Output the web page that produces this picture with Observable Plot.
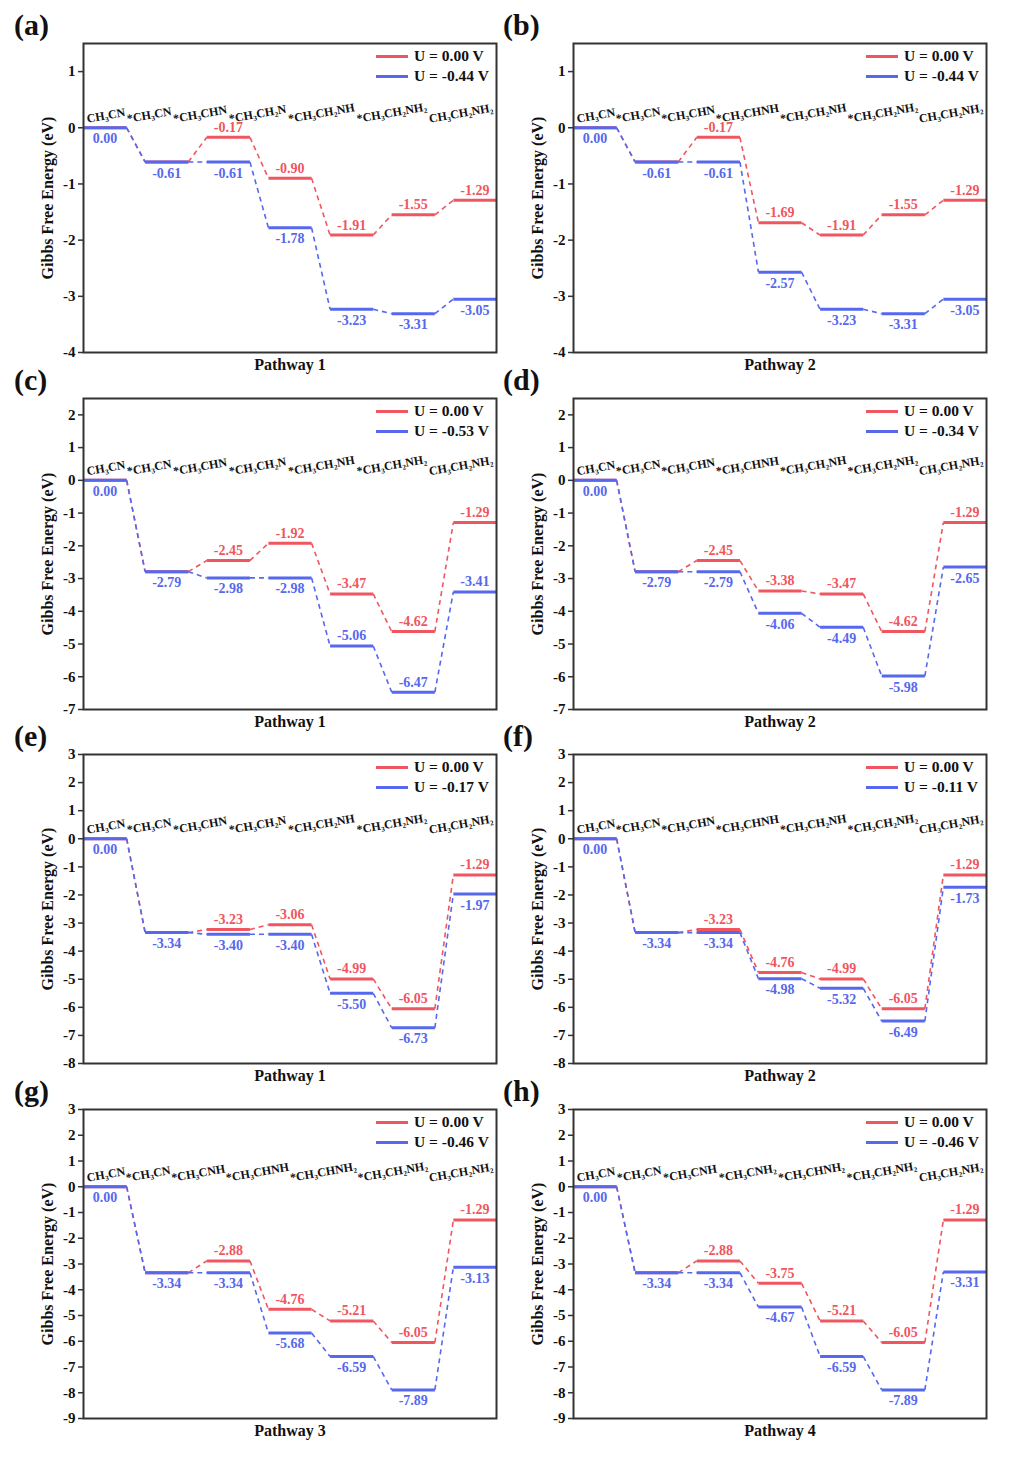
<!DOCTYPE html>
<html><head><meta charset="utf-8">
<script src="https://cdn.jsdelivr.net/npm/d3@7"></script>
<script src="https://cdn.jsdelivr.net/npm/@observablehq/plot@0.6"></script>
<style>
body{margin:0;background:#fff;}
#fig{position:relative;width:1013px;height:1463px;background:#fff;font-family:"Liberation Serif","Times New Roman",serif;color:#111;}
.panel{position:absolute;}
.letter{position:absolute;font-weight:bold;font-size:30px;line-height:30px;}
.legend{position:absolute;font-weight:bold;font-size:15.5px;line-height:20px;white-space:nowrap;}
.legend .sw{display:inline-block;width:32px;height:3px;vertical-align:middle;margin-right:6px;position:relative;top:-1px;}
</style></head><body><div id="fig"></div>
<script>
// ---------- data ----------
const panelLetters = ["(a)", "(b)", "(c)", "(d)", "(e)", "(f)", "(g)", "(h)"];
const pathwayNames = ["Pathway 1", "Pathway 2", "Pathway 1", "Pathway 2", "Pathway 1", "Pathway 2", "Pathway 3", "Pathway 4"];
const potentials = ["-0.44", "-0.44", "-0.53", "-0.34", "-0.17", "-0.11", "-0.46", "-0.46"];

const speciesP1 = ["CH₃CN", "*CH₃CN", "*CH₃CHN", "*CH₃CH₂N", "*CH₃CH₂NH", "*CH₃CH₂NH₂", "CH₃CH₂NH₂"];
const speciesP2 = ["CH₃CN", "*CH₃CN", "*CH₃CHN", "*CH₃CHNH", "*CH₃CH₂NH", "*CH₃CH₂NH₂", "CH₃CH₂NH₂"];
const speciesP3 = ["CH₃CN", "*CH₃CN", "*CH₃CNH", "*CH₃CHNH", "*CH₃CHNH₂", "*CH₃CH₂NH₂", "CH₃CH₂NH₂"];
const speciesP4 = ["CH₃CN", "*CH₃CN", "*CH₃CNH", "*CH₃CNH₂", "*CH₃CHNH₂", "*CH₃CH₂NH₂", "CH₃CH₂NH₂"];

const redA  = [0, -0.61, -0.17, -0.90, -1.91, -1.55, -1.29];
const blueA = [0, -0.61, -0.61, -1.78, -3.23, -3.31, -3.05];
const redB  = [0, -0.61, -0.17, -1.69, -1.91, -1.55, -1.29];
const blueB = [0, -0.61, -0.61, -2.57, -3.23, -3.31, -3.05];
const redC  = [0, -2.79, -2.45, -1.92, -3.47, -4.62, -1.29];
const blueC = [0, -2.79, -2.98, -2.98, -5.06, -6.47, -3.41];
const redD  = [0, -2.79, -2.45, -3.38, -3.47, -4.62, -1.29];
const blueD = [0, -2.79, -2.79, -4.06, -4.49, -5.98, -2.65];
const redE  = [0, -3.34, -3.23, -3.06, -4.99, -6.05, -1.29];
const blueE = [0, -3.34, -3.40, -3.40, -5.50, -6.73, -1.97];
const redF  = [0, -3.34, -3.23, -4.76, -4.99, -6.05, -1.29];
const blueF = [0, -3.34, -3.34, -4.98, -5.32, -6.49, -1.73];
const redG  = [0, -3.34, -2.88, -4.76, -5.21, -6.05, -1.29];
const blueG = [0, -3.34, -3.34, -5.68, -6.59, -7.89, -3.13];
const redH  = [0, -3.34, -2.88, -3.75, -5.21, -6.05, -1.29];
const blueH = [0, -3.34, -3.34, -4.67, -6.59, -7.89, -3.31];

const yDomains = [[-4, 1.5], [-4, 1.5], [-7, 2.5], [-7, 2.5], [-8, 3], [-8, 3], [-9, 3], [-9, 3]];

// ---------- build ----------
const panels = [
  {species: speciesP1, red: redA, blue: blueA, blueAbove: []},
  {species: speciesP2, red: redB, blue: blueB, blueAbove: []},
  {species: speciesP1, red: redC, blue: blueC, blueAbove: [4, 5, 6]},
  {species: speciesP2, red: redD, blue: blueD, blueAbove: []},
  {species: speciesP1, red: redE, blue: blueE, blueAbove: []},
  {species: speciesP2, red: redF, blue: blueF, blueAbove: []},
  {species: speciesP3, red: redG, blue: blueG, blueAbove: []},
  {species: speciesP4, red: redH, blue: blueH, blueAbove: []}
];

const RED = "#ef5660", BLUE = "#5668ee";
const FONT = "'Liberation Serif','Times New Roman','DejaVu Serif',serif";
const frameTops = [43, 398, 754, 1109];
const frameHeights = [309, 311, 309, 309];
const colX = [0, 490];
const MT = 10, MB = 34, W = 505, ML = 83, MR = 9;
const SEG = 0.7;
const SP_FONT = 12;

const measure = document.createElement("canvas").getContext("2d");
measure.font = `bold ${SP_FONT}px 'Liberation Serif'`;

const fig = document.getElementById("fig");

panels.forEach((p, k) => {
  const col = k % 2, row = Math.floor(k / 2);
  const ft = frameTops[row], fh = frameHeights[row];
  const [lo, hi] = yDomains[k];
  const red = p.red.map((v, i) => ({i, v}));
  const blue = p.blue.map((v, i) => ({i, v}));
  const links = arr => arr.slice(0, -1).map((d, j) => ({x1: d.i + SEG, y1: d.v, x2: d.i + 1, y2: arr[j + 1].v}));
  const redLabels = red.filter(d => d.v !== p.blue[d.i]);
  const blueBelow = blue.filter(d => !p.blueAbove.includes(d.i));
  const blueAboveL = blue.filter(d => p.blueAbove.includes(d.i));

  // species labels flowed along the top of the zero line, from text widths
  const innerW = W - ML - MR;
  const widths = p.species.map(s => measure.measureText(s).width);
  const gap = (innerW - 6 - d3.sum(widths)) / (widths.length - 1);
  let acc = 4;
  const spMarks = p.species.map((s, j) => {
    const off = acc;
    acc += widths[j] + gap;
    return Plot.text([s], {x: () => 0, y: () => 0, text: d => d, textAnchor: "start", lineAnchor: "bottom",
      dx: off, dy: -5, rotate: -10, fontSize: SP_FONT, fontWeight: "bold", fill: "#111"});
  });

  const chart = Plot.plot({
    width: W, height: MT + fh + MB,
    marginTop: MT, marginBottom: MB, marginLeft: ML, marginRight: MR,
    style: {fontFamily: FONT, fontWeight: "bold", fontSize: "14px", color: "#111", background: "transparent", overflow: "visible"},
    x: {domain: [0, 6 + SEG], axis: null},
    y: {domain: [lo, hi]},
    marks: [
      Plot.axisY({
        ticks: d3.range(Math.ceil(lo), Math.floor(hi) + 1),
        tickFormat: d => String(d), tickSize: 5, tickPadding: 3, fontSize: 15,
        stroke: "#333", strokeWidth: 1.5, fill: "#111",
        label: null
      }),
      Plot.text(["Gibbs Free Energy (eV)"], {frameAnchor: "left", textAnchor: "middle", text: d => d, rotate: -90, dx: -36, fontSize: 16, fontWeight: "bold", fill: "#111"}),
      Plot.link(links(red), {x1: "x1", y1: "y1", x2: "x2", y2: "y2", stroke: RED, strokeWidth: 1.6, strokeDasharray: "5,4"}),
      Plot.link(red, {x1: d => d.i, x2: d => d.i + SEG, y1: "v", y2: "v", stroke: RED, strokeWidth: 3}),
      Plot.link(links(blue), {x1: "x1", y1: "y1", x2: "x2", y2: "y2", stroke: BLUE, strokeWidth: 1.6, strokeDasharray: "5,4"}),
      Plot.link(blue, {x1: d => d.i, x2: d => d.i + SEG, y1: "v", y2: "v", stroke: BLUE, strokeWidth: 3}),
      Plot.text(redLabels, {x: d => d.i + SEG / 2, y: "v", text: d => d.v.toFixed(2), dy: -10, fill: RED, fontSize: 14, fontWeight: "bold"}),
      Plot.text(blueBelow, {x: d => d.i + SEG / 2, y: "v", text: d => d.v.toFixed(2), dy: 11, fill: BLUE, fontSize: 14, fontWeight: "bold"}),
      Plot.text(blueAboveL, {x: d => d.i + SEG / 2, y: "v", text: d => d.v.toFixed(2), dy: -10, fill: BLUE, fontSize: 14, fontWeight: "bold"}),
      ...spMarks,
      Plot.frame({stroke: "#333", strokeWidth: 2}),
      Plot.text([pathwayNames[k]], {frameAnchor: "bottom", text: d => d, dy: 17, fontSize: 16, fontWeight: "bold", fill: "#111"})
    ]
  });

  const div = document.createElement("div");
  div.className = "panel";
  div.style.left = colX[col] + "px";
  div.style.top = (ft - MT) + "px";
  div.appendChild(chart);
  fig.appendChild(div);

  const letter = document.createElement("div");
  letter.className = "letter";
  letter.textContent = panelLetters[k];
  letter.style.left = (colX[col] + (col ? 13 : 14)) + "px";
  letter.style.top = (ft - 33) + "px";
  fig.appendChild(letter);

  const lg = document.createElement("div");
  lg.className = "legend";
  lg.style.left = (colX[col] + ML + innerW - 120) + "px";
  lg.style.top = (ft + 3) + "px";
  lg.innerHTML = `<div><span class="sw" style="background:${RED}"></span>U = 0.00 V</div>` +
                 `<div><span class="sw" style="background:${BLUE}"></span>U = ${potentials[k]} V</div>`;
  fig.appendChild(lg);
});
</script></body></html>
